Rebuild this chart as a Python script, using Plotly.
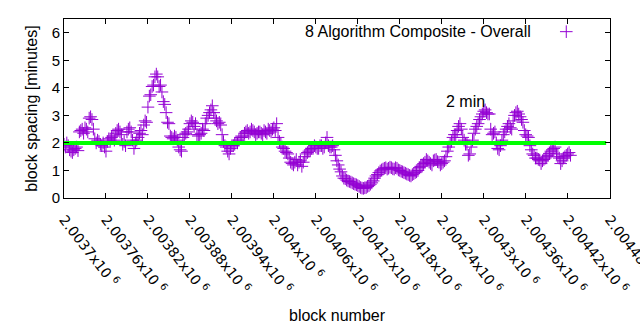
import plotly.graph_objects as go

# Block spacing in minutes, sampled every 4 blocks from 2,003,700 ...
first_block = 2003700
block_step = 4
spacing_a = [
    1.95, 2.0, 1.75, 1.65, 1.8, 1.72, 2.45, 2.35, 2.5, 2.9,
    2.85, 2.15, 2.1, 1.95, 2.0, 1.7, 2.15, 2.2, 2.1, 2.45,
    2.4, 1.95, 1.9, 2.5, 2.4, 1.8, 2.1, 2.35, 2.3, 2.8,
    3.3, 3.75, 4.1, 4.5, 4.05, 3.85, 3.4, 2.75, 2.25, 2.15,
    2.2, 1.85, 1.7, 2.3, 2.4, 2.7, 2.75, 2.7, 2.25, 2.35,
    2.45, 2.9, 3.1, 3.35, 2.9, 2.7, 2.65, 2.05, 1.85, 1.6,
    1.9, 1.95, 2.0, 2.2, 2.25, 2.4, 2.35, 2.5, 2.4, 2.35,
    2.4, 2.3, 2.4, 2.5, 2.4, 2.55, 2.7, 2.05, 1.85, 1.7,
    1.6, 1.3, 1.2, 1.4, 1.3, 1.15, 1.5, 1.65, 1.75, 1.8,
    1.85, 1.8, 1.9, 1.85, 2.2, 1.85, 1.9, 1.55, 1.2, 0.95,
    0.72, 0.65, 0.6, 0.55, 0.5, 0.45, 0.38, 0.35, 0.38, 0.45,
    0.55, 0.72, 0.85, 0.98, 1.05, 1.1, 1.08, 1.1, 1.05, 1.08,
    1.0, 0.95, 0.9, 0.85, 0.8, 0.88, 0.95, 1.1, 1.2, 1.3,
    1.35, 1.25, 1.35, 1.4, 1.3, 1.25, 1.35, 1.7, 1.95, 2.2,
    2.3, 2.6, 2.5, 2.1, 1.95, 1.6, 2.1, 2.5, 2.7, 2.95,
    3.15, 3.1, 3.05, 2.3, 2.4, 1.8, 1.9, 2.3, 2.5, 2.7,
    2.5, 3.0, 3.15, 2.95, 2.75, 2.3, 2.2, 1.75, 1.55, 1.45,
    1.38, 1.35, 1.45, 1.55, 1.7, 1.8, 1.6, 1.45, 1.35, 1.5,
    1.6, 1.55,
]
# ... and every 4 blocks from 2,003,702
spacing_b = [
    1.85, 1.9, 1.7, 1.75, 1.85, 2.4, 2.5, 2.55, 2.4, 2.95,
    2.5, 2.0, 2.05, 1.9, 1.85, 2.05, 2.1, 2.25, 2.35, 2.5,
    2.3, 2.05, 2.4, 2.55, 2.1, 2.0, 2.2, 2.45, 2.65, 2.75,
    3.7, 4.05, 4.4, 4.4, 4.1, 3.5, 3.1, 2.7, 2.2, 2.25,
    2.1, 1.75, 2.2, 2.35, 2.5, 2.8, 2.6, 2.3, 2.3, 2.5,
    2.7, 3.0, 3.2, 3.1, 2.8, 2.75, 2.3, 1.9, 1.7, 1.8,
    1.9, 2.05, 2.1, 2.2, 2.35, 2.45, 2.4, 2.45, 2.3, 2.4,
    2.35, 2.45, 2.35, 2.45, 2.5, 2.45, 2.2, 1.95, 1.8, 1.65,
    1.45, 1.25, 1.3, 1.2, 1.35, 1.3, 1.6, 1.7, 1.8, 1.9,
    1.8, 1.9, 1.8, 2.0, 1.9, 1.85, 1.75, 1.35, 1.05, 0.8,
    0.7, 0.62, 0.58, 0.52, 0.48, 0.42, 0.36, 0.37, 0.42, 0.5,
    0.62, 0.8, 0.92, 1.02, 1.08, 1.05, 1.12, 1.06, 1.1, 1.02,
    0.97, 0.92, 0.87, 0.82, 0.85, 0.92, 1.0, 1.15, 1.25, 1.4,
    1.3, 1.2, 1.38, 1.32, 1.2, 1.3, 1.5, 1.85, 2.05, 2.3,
    2.45, 2.7, 2.2, 1.95, 1.55, 1.85, 2.35, 2.6, 2.85, 3.05,
    3.2, 3.05, 2.5, 2.35, 2.0, 1.75, 2.1, 2.4, 2.6, 2.55,
    2.8, 3.1, 3.05, 2.85, 2.45, 2.25, 1.9, 1.6, 1.45, 1.4,
    1.25, 1.4, 1.5, 1.62, 1.75, 1.85, 1.5, 1.25, 1.45, 1.55,
    1.65,
]
blocks_a = [first_block + block_step * i for i in range(len(spacing_a))]
blocks_b = [first_block + 2 + block_step * i for i in range(len(spacing_b))]

target_minutes = 2
x_range = [2003700, 2004480.5]
tick_blocks = [2003700 + 60 * k for k in range(14)]
tick_labels = [f"{b / 1e6:.6g}x10 <sup>6</sup>" for b in tick_blocks]

purple = "#9400d3"
green = "#00ff00"
font_main = "Liberation Sans"

fig = go.Figure()

# Measured block spacing
cross = dict(symbol="cross-thin", size=9, line=dict(color=purple, width=1))
fig.add_trace(go.Scatter(
    x=blocks_a + blocks_b, y=spacing_a + spacing_b, mode="markers",
    marker=cross, showlegend=False,
))

# Target spacing line, drawn over the points
fig.add_trace(go.Scatter(
    x=[x_range[0], 2004475], y=[target_minutes, target_minutes],
    mode="lines", line=dict(color=green, width=4),
    showlegend=False, hoverinfo="skip",
))

# Key symbol next to the series title
fig.add_trace(go.Scatter(
    x=[2004418], y=[6.04], mode="markers", marker=cross,
    showlegend=False, hoverinfo="skip",
))

axis_common = dict(
    showline=True, linecolor="black", linewidth=1, mirror="ticks",
    ticks="inside", ticklen=5, tickcolor="black", showgrid=False,
    zeroline=False, automargin=False,
)

fig.update_xaxes(
    range=x_range, tickvals=tick_blocks, ticktext=tick_labels,
    tickangle=52, ticklabelstandoff=7, ticklabeloverflow="allow",
    tickfont=dict(family="DejaVu Sans", size=14, color="black"),
    **axis_common,
)
fig.update_yaxes(
    range=[0, 6.5], tickvals=[0, 1, 2, 3, 4, 5, 6],
    tickfont=dict(family=font_main, size=15, color="black"),
    title=dict(text="block spacing [minutes]", font=dict(family=font_main, size=16, color="black"), standoff=10),
    **axis_common,
)

fig.update_layout(
    width=640, height=330,
    margin=dict(l=64, r=30, t=19, b=132),
    paper_bgcolor="white", plot_bgcolor="white",
    annotations=[
        dict(x=2004274, y=3.49, xref="x", yref="y", text="2 min", showarrow=False,
             font=dict(family=font_main, size=16, color="black")),
        dict(x=(533 - 64) / 546, y=(198 - 32) / 179, xref="paper", yref="paper",
             text="8 Algorithm Composite - Overall", showarrow=False,
             xanchor="right", yanchor="middle",
             font=dict(family=font_main, size=16, color="black")),
        dict(x=0.5, y=-(315 - 198) / 179, xref="paper", yref="paper",
             text="block number", showarrow=False, yanchor="middle",
             font=dict(family=font_main, size=16, color="black")),
    ],
)

fig.write_html("out.html")
